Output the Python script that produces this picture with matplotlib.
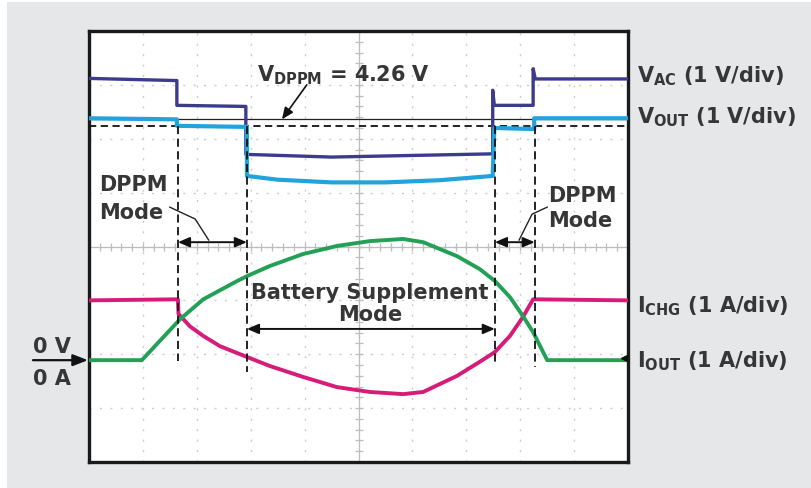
import matplotlib
matplotlib.use("Agg")
import matplotlib.pyplot as plt
from matplotlib.patches import Rectangle
import numpy as np

plt.rcParams['font.family'] = ['DejaVu Sans']
plt.rcParams['mathtext.fontset'] = 'custom'
plt.rcParams['mathtext.rm'] = 'DejaVu Sans:bold'
plt.rcParams['mathtext.it'] = 'DejaVu Sans:bold'
plt.rcParams['mathtext.bf'] = 'DejaVu Sans:bold'
plt.rcParams['mathtext.default'] = 'rm'

# ---- data (screen divisions: time 0..10, amplitude 0..8) ----
vac_t = [0.0, 1.63, 1.63, 2.91, 2.91, 4.5, 7.49, 7.49, 7.52, 8.24, 8.24, 8.28, 10.0]
vac_v = [7.12, 7.08, 6.62, 6.60, 5.71, 5.66, 5.72, 6.90, 6.62, 6.62, 7.30, 7.11, 7.11]

vout_t = [0.0, 1.63, 1.63, 2.93, 2.93, 3.5, 4.5, 5.5, 6.5, 7.49, 7.52, 8.26, 8.26, 10.0]
vout_v = [6.38, 6.36, 6.24, 6.22, 5.31, 5.24, 5.19, 5.19, 5.23, 5.31, 6.20, 6.18, 6.38, 6.38]

ichg_t = [0.0, 1.65, 1.66, 1.87, 2.12, 2.43, 2.93, 3.36, 3.97, 4.60, 5.21, 5.83, 6.20,
          6.83, 7.25, 7.53, 7.81, 8.05, 8.24, 10.0]
ichg_v = [3.00, 3.02, 2.75, 2.52, 2.34, 2.15, 1.95, 1.78, 1.58, 1.39, 1.30, 1.26, 1.30,
          1.60, 1.86, 2.04, 2.34, 2.69, 3.02, 3.00]

iout_t = [0.0, 0.98, 1.69, 2.12, 2.75, 2.93, 3.36, 3.97, 4.60, 5.21, 5.83, 6.20, 6.83,
          7.25, 7.53, 7.81, 8.05, 8.24, 8.50, 10.0]
iout_v = [1.89, 1.89, 2.65, 3.02, 3.36, 3.45, 3.64, 3.86, 4.01, 4.10, 4.14, 4.08, 3.82,
          3.58, 3.36, 3.06, 2.71, 2.41, 1.89, 1.89]

v_dppm_level = 6.36
v_ref_dashed = 6.23
zero_level = 1.89
mode_edges = [1.65, 2.93, 7.53, 8.27]
edge_bottoms = [1.87, 1.67, 1.82, 1.76]

C_VAC = '#3d3b8e'
C_VOUT = '#22a3dc'
C_ICHG = '#d61c78'
C_IOUT = '#22a055'
TXT = '#363636'

W, H = 812, 489
fig = plt.figure(figsize=(W / 100, H / 100), dpi=100)
fig.patch.set_facecolor('white')
fig.add_artist(Rectangle((7 / W, 0), 1, 1 - 3 / H, transform=fig.transFigure,
                         facecolor='#e6e7e9', edgecolor='none', zorder=0))

L, R, T, B = 89, 628, 32, 463
ax = fig.add_axes([L / W, 1 - B / H, (R - L) / W, (B - T) / H])
ax.set_facecolor('white')
ax.set_xlim(0, 10)
ax.set_ylim(0, 8)
ax.set_xticks([]); ax.set_yticks([])
for s in ax.spines.values():
    s.set_linewidth(2.4)
    s.set_color('#1a1a1a')

# graticule
gcol = '#cdcdcd'
for gx in range(1, 10):
    ax.axvline(gx, color=gcol, lw=1.0, ls=(0, (1.5, 6)), zorder=1)
for gy in range(1, 8):
    ax.axhline(gy, color=gcol, lw=1.0, ls=(0, (1.5, 6)), zorder=1)
ax.axhline(4, color='#bdbdbd', lw=0.9, zorder=1)
ax.axvline(5, color='#bdbdbd', lw=0.9, zorder=1)
tk = np.arange(0, 10.01, 0.2)
ax.plot(tk, np.full_like(tk, 4.0), ls='none', marker='|', ms=6, mew=0.9, color='#bdbdbd', zorder=1)
tk2 = np.arange(0, 8.01, 0.2)
ax.plot(np.full_like(tk2, 5.0), tk2, ls='none', marker='_', ms=6, mew=0.9, color='#bdbdbd', zorder=1)

# reference lines
ax.axhline(v_dppm_level, color='#222222', lw=0.9, zorder=3)
ax.axhline(v_ref_dashed, color='#111111', lw=1.3, ls=(0, (4, 2.5)), zorder=3)

# traces
ax.plot(vac_t, vac_v, color=C_VAC, lw=2.4, zorder=4)
ax.plot(vout_t, vout_v, color=C_VOUT, lw=3.0, zorder=4)
ax.plot(ichg_t, ichg_v, color=C_ICHG, lw=2.8, zorder=4, solid_joinstyle='round')
ax.plot(iout_t, iout_v, color=C_IOUT, lw=2.8, zorder=4, solid_joinstyle='round')

# mode boundaries
for xe, yb in zip(mode_edges, edge_bottoms):
    ax.plot([xe, xe], [v_ref_dashed, yb], color='#111111', lw=1.3, ls=(0, (4.5, 2.5)), zorder=5)

arrow_kw = dict(arrowstyle='<|-|>,head_length=0.7,head_width=0.3', color='#111111', lw=1.4,
                shrinkA=0, shrinkB=0)
ax.annotate('', xy=(mode_edges[0], 4.08), xytext=(mode_edges[1], 4.08), arrowprops=arrow_kw, zorder=6)
ax.annotate('', xy=(mode_edges[2], 4.08), xytext=(mode_edges[3], 4.08), arrowprops=arrow_kw, zorder=6)
ax.annotate('', xy=(mode_edges[1], 2.47), xytext=(mode_edges[2], 2.47), arrowprops=arrow_kw, zorder=6)

# texts
fs = 15
tkw = dict(fontsize=fs, fontweight='bold', color=TXT, zorder=7)
ax.text(0.19, 5.16, 'DPPM', ha='left', va='center', **tkw)
ax.text(0.19, 4.64, 'Mode', ha='left', va='center', **tkw)
ax.plot([1.50, 1.97, 2.22], [4.73, 4.51, 4.12], color='#222222', lw=1.0, zorder=6)

ax.text(8.52, 4.96, 'DPPM', ha='left', va='center', **tkw)
ax.text(8.52, 4.50, 'Mode', ha='left', va='center', **tkw)
ax.plot([8.50, 8.22, 7.98], [4.73, 4.60, 4.12], color='#222222', lw=1.0, zorder=6)

ax.text(5.21, 3.15, 'Battery Supplement', ha='center', va='center', **tkw)
ax.text(5.21, 2.75, 'Mode', ha='center', va='center', **tkw)

ax.text(3.12, 7.08, r'V$_{\mathrm{DPPM}}$ = 4.26 V', ha='left', va='baseline', **tkw)
ax.annotate('', xy=(3.58, v_dppm_level), xytext=(4.04, 7.0),
            arrowprops=dict(arrowstyle='-|>,head_length=0.7,head_width=0.3', color='#111111',
                            lw=1.2, shrinkA=0, shrinkB=0), zorder=6)

rkw = dict(fontsize=fs, fontweight='bold', color=TXT, ha='left', va='baseline', clip_on=False)
ax.text(10.17, 7.07, r'V$_{\mathrm{AC}}$ (1 V/div)', **rkw)
ax.text(10.17, 6.31, r'V$_{\mathrm{OUT}}$ (1 V/div)', **rkw)
ax.text(10.17, 2.80, r'I$_{\mathrm{CHG}}$ (1 A/div)', **rkw)
ax.text(10.17, 1.78, r'I$_{\mathrm{OUT}}$ (1 A/div)', **rkw)
ax.plot([9.93], [zero_level + 0.04], marker='<', ms=5, color='#111111', clip_on=False, zorder=8)

# zero reference marker on the left
ax.annotate('', xy=(-0.02, zero_level), xytext=(-1.04, zero_level),
            arrowprops=dict(arrowstyle='-|>,head_length=0.9,head_width=0.35', color='#111111',
                            lw=1.6, shrinkA=0, shrinkB=0), annotation_clip=False)
ax.text(-1.04, 2.04, '0 V', fontsize=fs, fontweight='bold', color=TXT, ha='left', va='baseline', clip_on=False)
ax.text(-1.04, 1.44, '0 A', fontsize=fs, fontweight='bold', color=TXT, ha='left', va='baseline', clip_on=False)

fig.savefig('out.png', dpi=100, facecolor=fig.get_facecolor())
